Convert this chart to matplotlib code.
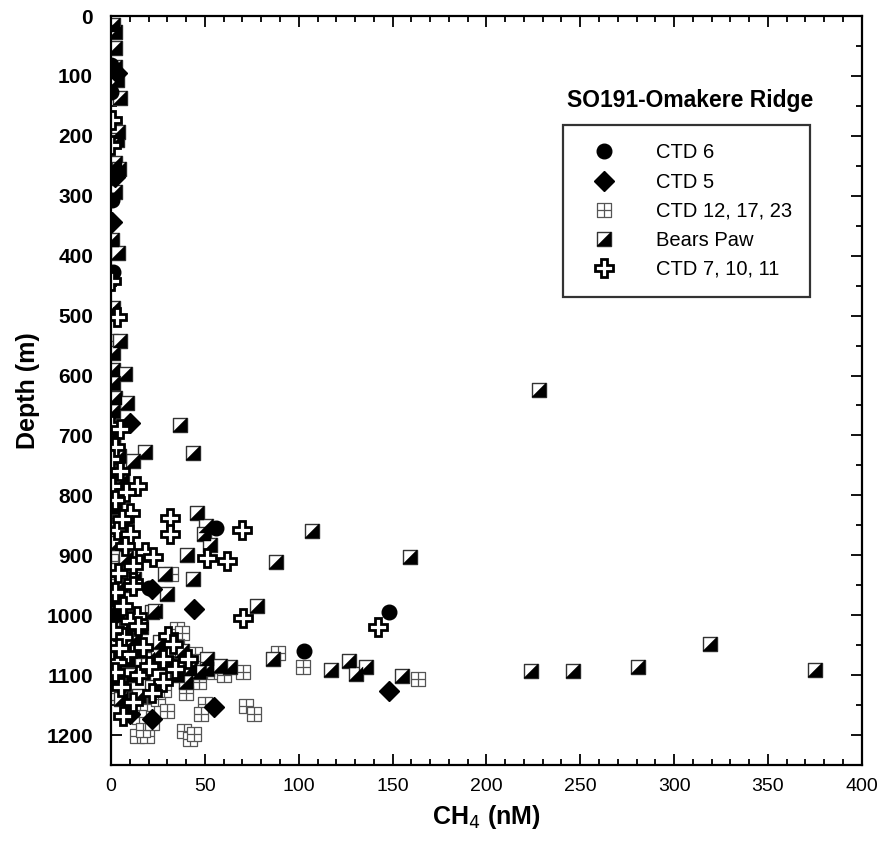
import numpy as np
import matplotlib.pyplot as plt
from matplotlib.path import Path
from matplotlib.ticker import MultipleLocator
from matplotlib.legend_handler import HandlerTuple

plt.rcParams['font.family'] = ['Liberation Sans', 'DejaVu Sans']

# CH4 (nM) and depth (m) per station group
ctd6_ch4 = [0, 0, 0.5, 1, 56, 148, 103, 20, 2]
ctd6_depth = [82, 126, 307, 428, 855, 994, 1060, 955, 1000]

ctd5_ch4 = [3, 2, 0.5, 10, 22, 44, 148, 55, 22, 10]
ctd5_depth = [95, 268, 343, 679, 957, 990, 1126, 1154, 1173, 1165]

ctd12_ch4 = [0, 0, 2, 1, 0, 2, 0, 32, 35, 38, 35, 44.7, 47, 40, 19, 15, 70.4, 89,
             102.3, 163.5, 72, 76, 50, 48, 39, 42, 44, 14, 19, 17, 55, 60, 25, 28,
             1, 0, 2, 3, 30, 22]
ctd12_depth = [543, 820, 850, 880, 910, 940, 1000, 932, 1023, 1030, 1051, 1065, 1112,
               1129, 1148, 1170, 1095, 1063, 1087, 1107, 1151, 1165, 1148, 1165, 1193,
               1207, 1198, 1201, 1201, 1192, 1095, 1100, 1140, 1125,
               960, 1040, 1090, 1130, 1160, 1180]

bears_ch4 = [1.2, 2, 2, 2, 3, 4.8, 3.8, 3, 2, 4, 2, 0.5, 3.8, 1, 4.8, 1, 1, 7.5, 1, 2,
             8.5, 1, 36.7, 1, 18, 43.6, 11.7, 2, 6, 0, 2,
             45.6, 50.5, 49.5, 107, 52.7, 40.3, 88.1, 159.4, 28.7, 43.8, 29.8, 21.8,
             77.5, 23.4, 228, 3, 8, 2, 5, 12, 3, 8, 2, 12,
             19.7, 17, 42, 51, 51, 40, 63.3, 86.3, 117, 126.8, 130.3, 136, 155, 224,
             246, 281, 319, 375, 25, 30, 35, 10, 22, 15, 58, 47,
             1, 4, 6, 1, 3, 14, 9, 2, 16, 5, 38, 26]
bears_depth = [15, 26, 54, 85, 107, 137, 193, 207, 245, 255, 293, 373, 395, 487, 543,
               562, 590, 598, 612, 637, 645, 660, 682, 718, 727, 729, 743, 760, 775,
               800, 820,
               830, 851, 865, 859, 883, 900, 911, 903, 932, 940, 965, 995, 984, 993,
               624, 880, 905, 925, 950, 940, 1000, 1020, 1050, 1040,
               1073, 1095, 1090, 1073, 1090, 1112, 1087, 1073, 1092, 1077, 1098, 1087,
               1102, 1093, 1093, 1087, 1048, 1091, 1060, 1080, 1100, 1100, 1120, 1135,
               1085, 1095,
               700, 735, 845, 975, 1030, 1060, 1075, 1110, 1020, 1140, 1060, 1045]

ctd7_ch4 = [0.5, 0, 0, 3, 0, 4.8, 4.8, 0.5, 13.8, 8, 2, 10, 3, 10, 31.4, 31.4, 69.5,
            50.9, 61.5, 7.5, 18, 22.4, 11.7, 3.8, 11.7, 2, 6.5, 13.8, 11.8, 10, 14.5,
            6.5, 17, 30.5, 33, 8.5, 27.8, 41, 34, 3, 3.8, 27.8, 11.8, 6.5, 70.4, 142.2,
            5, 15, 20, 2, 0, 6, 1, 4, 22, 2]
ctd7_depth = [173, 215, 443, 503, 682, 690, 760, 785, 785, 795, 807, 829, 857, 865,
              837, 865, 857, 905, 909, 885, 895, 903, 918, 929, 945, 962, 985, 1001,
              951, 1010, 1018, 1037, 1053, 1035, 1048, 1065, 1073, 1073, 1090, 1078,
              1107, 1112, 1145, 1168, 1004, 1020, 1120, 1100, 1085, 720, 740, 840,
              1025, 1055, 1130, 1095]

# marker shapes
sq = [(-1, -1), (1, -1), (1, 1), (-1, 1), (-1, -1)]
grid_marker = Path(sq + [(0, -1), (0, 1), (-1, 0), (1, 0)],
                   [Path.MOVETO, Path.LINETO, Path.LINETO, Path.LINETO, Path.CLOSEPOLY,
                    Path.MOVETO, Path.LINETO, Path.MOVETO, Path.LINETO])
square_marker = Path(sq, [Path.MOVETO, Path.LINETO, Path.LINETO, Path.LINETO, Path.CLOSEPOLY])
half_marker = Path([(-1, -1), (1, -1), (1, 1), (-1, -1)],
                   [Path.MOVETO, Path.LINETO, Path.LINETO, Path.CLOSEPOLY])

fig = plt.figure(figsize=(8.82, 8.43), dpi=100)
ax = fig.add_axes([0.126, 0.0925, 0.851, 0.8885])

ms = 10
h_grid, = ax.plot(ctd12_ch4, ctd12_depth, ls='none', marker=grid_marker, ms=ms,
                  mfc='white', mec='#555555', mew=0.9)
h_bp1, = ax.plot(bears_ch4, bears_depth, ls='none', marker=square_marker, ms=ms,
                 mfc='white', mec='#333333', mew=1.0)
h_bp2, = ax.plot(bears_ch4, bears_depth, ls='none', marker=half_marker, ms=ms,
                 mfc='black', mec='black', mew=0.3)
h_dia, = ax.plot(ctd5_ch4, ctd5_depth, ls='none', marker='D', ms=10,
                 mfc='black', mec='black')
h_circ, = ax.plot(ctd6_ch4, ctd6_depth, ls='none', marker='o', ms=10.5,
                  mfc='black', mec='black')
h_plus, = ax.plot(ctd7_ch4, ctd7_depth, ls='none', marker='P', ms=13.5,
                  mfc='white', mec='black', mew=2.0)

ax.set_xlim(0, 400)
ax.set_ylim(1250, 0)
ax.xaxis.set_major_locator(MultipleLocator(50))
ax.xaxis.set_minor_locator(MultipleLocator(10))
ax.yaxis.set_major_locator(MultipleLocator(100))
ax.yaxis.set_minor_locator(MultipleLocator(50))
ax.tick_params(which='both', direction='in', top=True, right=True, width=1.3)
ax.tick_params(which='major', length=8)
ax.tick_params(which='minor', length=4)
ax.tick_params(axis='x', labelsize=14, pad=9)
ax.tick_params(axis='y', labelsize=15, pad=13)
for lbl in ax.get_yticklabels():
    lbl.set_fontweight('bold')
for s in ax.spines.values():
    s.set_linewidth(1.6)

ax.set_xlabel('CH$_4$ (nM)', fontsize=18, fontweight='bold', labelpad=6)
ax.set_ylabel('Depth (m)', fontsize=18, fontweight='bold', labelpad=5)

ax.text(0.771, 0.887, 'SO191-Omakere Ridge', transform=ax.transAxes,
        ha='center', va='center', fontsize=16.5, fontweight='bold')
leg = ax.legend([h_circ, h_dia, h_grid, (h_bp1, h_bp2), h_plus],
                ['CTD 6', 'CTD 5', 'CTD 12, 17, 23', 'Bears Paw', 'CTD 7, 10, 11'],
                handler_map={tuple: HandlerTuple(ndivide=1, pad=0)},
                loc='upper left', bbox_to_anchor=(0.602, 0.854), fontsize=14.5,
                frameon=True, fancybox=False, edgecolor='black', borderpad=0.9,
                labelspacing=0.5, handletextpad=1.4, borderaxespad=0,
                numpoints=1, markerscale=1.0, handlelength=2.3)
leg.get_frame().set_linewidth(1.6)

fig.savefig('out.png', dpi=100)
